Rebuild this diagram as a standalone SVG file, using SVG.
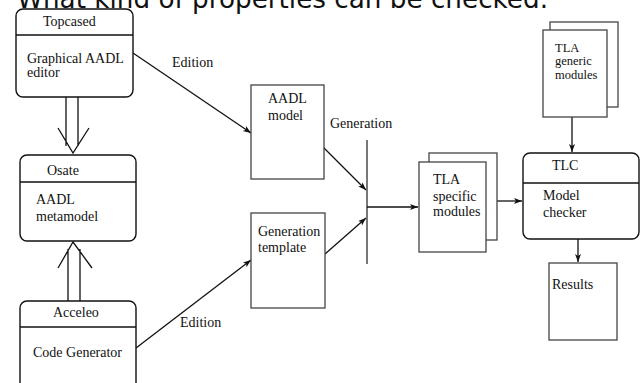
<svg xmlns="http://www.w3.org/2000/svg" width="643" height="383" viewBox="0 0 643 383">
<defs>
<marker id="ah" markerWidth="10" markerHeight="8" refX="8" refY="3" orient="auto" markerUnits="userSpaceOnUse">
<path d="M0,0 L8,3 L0,6 L2,3 z" fill="#111"/>
</marker>
<style>
.t{font-family:"Liberation Serif","Times New Roman",serif;font-size:14px;fill:#111}
.s{font-size:12.5px}
.rb{fill:#fff;stroke:#111;stroke-width:1.4}
.pb{fill:#fff;stroke:#444;stroke-width:1.3}
.ln{fill:none;stroke:#111;stroke-width:1.3}
.gl{fill:none;stroke:#555;stroke-width:1.6}
</style>
</defs>
<rect width="643" height="383" fill="#fff"/>
<text x="17" y="7.5" font-family="DejaVu Sans, Verdana, sans-serif" font-size="26" textLength="531" lengthAdjust="spacingAndGlyphs" fill="#111">What kind of properties can be checked.</text>

<g id="connectors">
<path class="ln" d="M133,53 L251,133" marker-end="url(#ah)"/>
<path class="ln" d="M136,348 L251,260" marker-end="url(#ah)"/>
<path class="ln" d="M323,147 L366,190" marker-end="url(#ah)"/>
<path class="ln" d="M325,254 L366,218" marker-end="url(#ah)"/>
<path class="gl" d="M367,140 L367,264"/>
<path class="ln" d="M367,207 L418,207" marker-end="url(#ah)"/>
<path class="ln" d="M497,201 L522,201" marker-end="url(#ah)"/>
<path class="ln" d="M572,117 L572,152" marker-end="url(#ah)"/>
<path class="ln" d="M578,239 L578,262" marker-end="url(#ah)"/>
<path class="ln" d="M66,97 L66,146 M78,97 L78,146 M58,128 L73,153 L89,128"/>
<path class="ln" d="M68,302 L68,249 M80,302 L80,249 M58,268 L73,242 L92,268"/>
<text class="t" x="172" y="67">Edition</text>
<text class="t" x="180" y="327">Edition</text>
<text class="t" x="330" y="128">Generation</text>
</g>

<g id="topcased">
<rect class="rb" x="16" y="9" width="117" height="88" rx="7"/>
<path class="ln" d="M16,35 L133,35"/>
<text class="t" x="43" y="26">Topcased</text>
<text class="t" x="27" y="63">Graphical AADL</text>
<text class="t" x="27" y="77">editor</text>
</g>

<g id="osate">
<rect class="rb" x="20" y="155" width="116" height="86" rx="7"/>
<path class="ln" d="M20,182 L136,182"/>
<text class="t" x="47" y="175">Osate</text>
<text class="t" x="36" y="204">AADL</text>
<text class="t" x="36" y="221">metamodel</text>
</g>

<g id="acceleo">
<rect class="rb" x="20" y="301" width="116" height="95" rx="7"/>
<path class="ln" d="M20,327 L136,327"/>
<text class="t" x="53" y="317">Acceleo</text>
<text class="t" x="33" y="357">Code Generator</text>
</g>

<g id="aadl-model">
<rect class="pb" x="251" y="85" width="73" height="94"/>
<text class="t" x="268" y="103">AADL</text>
<text class="t" x="268" y="120">model</text>
</g>

<g id="generation-template">
<rect class="pb" x="251" y="213" width="74" height="95"/>
<text class="t" x="258" y="236">Generation</text>
<text class="t" x="258" y="252">template</text>
</g>

<g id="tla-specific">
<rect class="pb" x="429" y="153" width="68" height="87"/>
<rect class="pb" x="419" y="162" width="67" height="90"/>
<text class="t" x="433" y="184">TLA</text>
<text class="t" x="433" y="201">specific</text>
<text class="t" x="433" y="216">modules</text>
</g>

<g id="tla-generic">
<rect class="pb" x="550" y="22" width="68" height="85"/>
<rect class="pb" x="543" y="30" width="64" height="87"/>
<text class="t s" x="555" y="52">TLA</text>
<text class="t s" x="555" y="65">generic</text>
<text class="t s" x="555" y="79">modules</text>
</g>

<g id="tlc">
<rect class="rb" x="523" y="153" width="116" height="86" rx="7"/>
<path class="ln" d="M523,183 L639,183"/>
<text class="t" x="552" y="170" font-size="13">TLC</text>
<text class="t" x="543" y="200" font-size="13">Model</text>
<text class="t" x="543" y="217" font-size="13">checker</text>
</g>

<g id="results">
<rect class="pb" x="549" y="263" width="68" height="77"/>
<text class="t" x="552" y="289">Results</text>
</g>
</svg>
